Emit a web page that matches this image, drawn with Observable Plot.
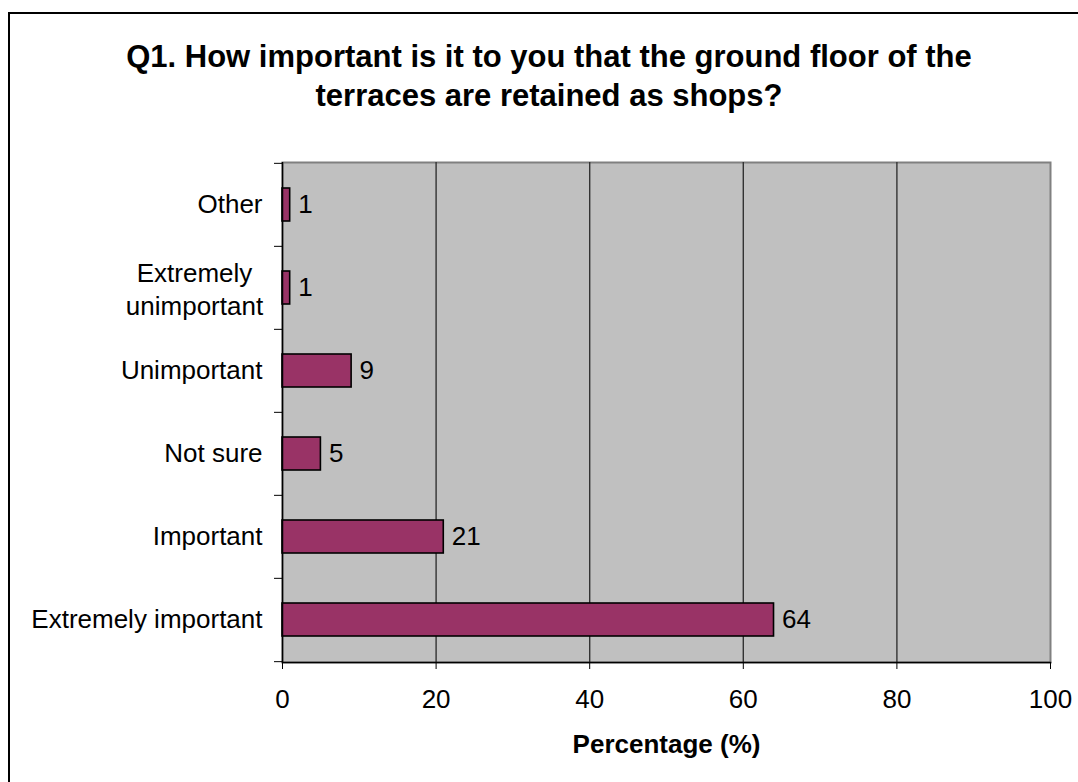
<!DOCTYPE html>
<html>
<head>
<meta charset="utf-8">
<script src="https://cdn.jsdelivr.net/npm/d3@7"></script>
<script src="https://cdn.jsdelivr.net/npm/@observablehq/plot@0.6"></script>
<style>
  html, body { margin: 0; padding: 0; background: #fff; }
  #wrap { position: relative; width: 1078px; height: 782px; overflow: hidden; background: #fff;
          font-family: "Liberation Sans", Arial, sans-serif; }
  #border { position: absolute; left: 8px; top: 12px; width: 1200px; height: 900px;
            border: 2px solid #000; }
  #title { position: absolute; left: 0; top: 37px; width: 1098px; text-align: center;
           font-weight: bold; font-size: 31px; line-height: 39px; color: #000; }
  #chart { position: absolute; left: 0; top: 0; }
</style>
</head>
<body>
<div id="wrap">
  <div id="border"></div>
  <div id="title">Q1. How important is it to you that the ground floor of the<br>terraces are retained as shops?</div>
  <div id="chart"></div>
</div>
<script>
// Survey answers, listed top to bottom as they appear on the chart
const categories = ["Other", "Extremely unimportant", "Unimportant", "Not sure", "Important", "Extremely important"];
const percentages = [1, 1, 9, 5, 21, 64];
const xTicks = [0, 20, 40, 60, 80, 100];
const gridTicks = [20, 40, 60, 80];
const xTitle = "Percentage (%)";

const data = categories.map((c, i) => ({category: c, value: percentages[i]}));
const wrapped = ["Extremely unimportant"];
const singleLine = categories.filter(c => !wrapped.includes(c));

const W = 1078, H = 782, mT = 162, mB = 120, mL = 282, mR = 28;
const band = (H - mT - mB) / categories.length;
const font = "Liberation Sans, Arial, sans-serif";
const fs = 26;

const chart = Plot.plot({
  width: W,
  height: H,
  marginTop: mT,
  marginBottom: mB,
  marginLeft: mL,
  marginRight: mR,
  style: {background: "transparent", fontFamily: font, color: "#000", overflow: "visible"},
  x: {domain: [0, 100]},
  y: {type: "band", domain: categories, padding: 0},
  marks: [
    // plot area
    Plot.frame({fill: "#C0C0C0", stroke: "#808080", strokeWidth: 2}),
    Plot.gridX(gridTicks, {stroke: "#333", strokeOpacity: 1, strokeWidth: 1.4}),
    // bars and their value labels
    Plot.barX(data, {x: "value", y: "category", fill: "#993366", stroke: "#000", strokeWidth: 1.6,
                     insetTop: 25, insetBottom: 25}),
    Plot.text(data, {x: "value", y: "category", text: d => String(d.value), textAnchor: "start",
                     dx: 8, fontSize: fs, fill: "#000"}),
    // axis lines
    Plot.ruleX([0], {stroke: "#000", strokeWidth: 1.5}),
    Plot.frame({anchor: "bottom", stroke: "#000", strokeWidth: 1.5}),
    // x axis
    Plot.axisX(xTicks, {tickSize: 7, tickPadding: 20, fontSize: fs, label: null, stroke: "#000"}),
    Plot.text([xTitle], {frameAnchor: "bottom", dy: 90, fontSize: fs, fontWeight: "bold", fill: "#000"}),
    // category boundary ticks
    Plot.axisY({ticks: categories, tickSize: 8, dy: -band / 2, tickFormat: () => "", label: null}),
    Plot.axisY({ticks: [categories[categories.length - 1]], tickSize: 8, dy: band / 2, tickFormat: () => "", label: null}),
    // category labels
    Plot.axisY({ticks: singleLine, tickSize: 0, tickPadding: 20, fontSize: fs, label: null}),
    Plot.axisY({ticks: wrapped, tickSize: 0, tickPadding: 88, fontSize: fs, label: null,
                textAnchor: "middle", lineHeight: 1.26,
                tickFormat: d => d.replace(" ", "\n")})
  ]
});

document.getElementById("chart").appendChild(chart);
</script>
</body>
</html>
